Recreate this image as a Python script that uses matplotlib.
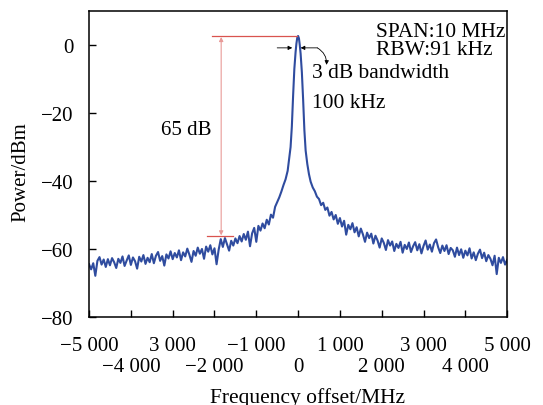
import numpy as np
import matplotlib
matplotlib.use('Agg')
import matplotlib.pyplot as plt

plt.rcParams.update({
    'font.family': ['Liberation Serif', 'DejaVu Serif'],
    'font.size': 15,
    'axes.unicode_minus': True,
})

# Spectrum trace (frequency offset in MHz, power in dBm)
left_freq = list(range(-5000, -250, 50))
left_power = [
    -64.5, -66.0, -64.2, -67.9, -63.5, -62.4, -64.6, -63.1, -65.3, -63.0,
    -64.8, -62.7, -63.9, -65.6, -62.9, -64.1, -62.2, -65.0, -63.4, -61.9,
    -64.7, -62.5, -63.6, -65.8, -62.3, -63.7, -61.8, -64.4, -62.6, -63.9,
    -61.5, -64.2, -62.0, -60.9, -63.5, -62.1, -64.9, -61.6, -62.8, -60.7,
    -63.0, -61.2, -62.5, -60.4, -63.3, -61.0, -62.2, -59.9, -61.7, -63.8,
    -60.6, -62.0, -59.6, -61.4, -60.0, -62.9, -59.3, -60.8, -58.9, -61.6,
    -59.8, -64.5, -60.2, -57.1, -59.4, -56.8, -58.7, -60.5, -57.6, -59.0,
    -56.9, -58.3, -56.2, -57.8, -55.6, -57.3, -54.9, -59.2, -55.4, -53.8,
    -57.9, -53.2, -54.6, -52.5, -53.9, -51.4, -52.8, -49.9, -50.8, -47.6,
    -46.2, -44.8, -43.1, -41.2, -39.5,
]

peak_freq = [-250, -220, -180, -150, -120, -90, -60, -40, -20, 0,
             20, 40, 60, 90, 120, 150, 180, 220, 260]
peak_power = [-37.0, -34.0, -30.0, -24.0, -15.0, -7.0, -2.0, 0.5, 2.2, 2.7,
              2.0, 0.0, -2.5, -8.0, -16.0, -25.0, -31.0, -35.0, -38.0]

right_freq = list(range(300, 5050, 50))
right_power = [
    -40.2, -41.9, -43.0, -44.6, -45.3, -47.1, -46.4, -48.5, -47.8, -50.2,
    -49.1, -51.3, -50.0, -52.6, -50.9, -53.4, -51.7, -55.8, -52.9, -54.2,
    -52.4, -55.1, -53.6, -56.3, -54.0, -55.7, -57.9, -55.2, -56.8, -55.5,
    -58.4, -56.1, -57.5, -59.6, -56.9, -58.2, -60.3, -57.4, -59.0, -57.8,
    -60.6, -58.5, -59.7, -57.9, -61.1, -58.8, -60.0, -58.1, -60.9, -59.2,
    -58.0, -60.4, -58.6, -61.3, -59.1, -57.5, -60.2, -58.7, -60.8, -58.3,
    -57.2, -59.5, -61.2, -59.0, -60.6, -58.9, -61.5, -59.7, -60.4, -62.3,
    -59.6, -61.8, -60.1, -62.6, -60.5, -61.9, -59.8, -62.8, -61.0, -63.3,
    -61.4, -60.2, -62.7, -61.1, -63.6, -61.8, -62.9, -64.8, -62.0, -67.4,
    -62.6, -64.1, -62.4, -64.6, -63.2,
]

freq = np.array(left_freq + peak_freq + right_freq)
power = np.array(left_power + peak_power + right_power)

top_ticks = [-5000, -3000, -1000, 1000, 3000, 5000]
top_labels = ['\u22125 000', '3 000', '\u22121 000', '1 000', '3 000', '5 000']
low_ticks = [-4000, -2000, 0, 2000, 4000]
low_labels = ['\u22124 000', '\u22122 000', '0', '2 000', '4 000']
y_ticks = [0, -20, -40, -60, -80]

fig = plt.figure(figsize=(5.43, 4.06), dpi=100)
ax = fig.add_axes([0.164, 0.217, 0.770, 0.753])

ax.plot(freq, power, color='#2f4c9f', linewidth=1.5)

# 65 dB marker (red)
red = '#d9534f'
ax.plot([-2060, -30], [2.7, 2.7], color=red, linewidth=0.9)
ax.plot([-2180, -1550], [-56.2, -56.2], color=red, linewidth=0.9)
ax.annotate('', xy=(-1840, 2.4), xytext=(-1840, -56.0),
            arrowprops=dict(arrowstyle='<|-|>', color='#e89a98', lw=0.8,
                            mutation_scale=6, shrinkA=0, shrinkB=0))
ax.text(-2680, -24.7, '65 dB', ha='center', va='center')

# 3 dB bandwidth arrows (black)
ax.annotate('', xy=(-140, -0.8), xytext=(-500, -0.8),
            arrowprops=dict(arrowstyle='-|>', color='black', lw=0.6,
                            mutation_scale=6, shrinkA=0, shrinkB=0))
ax.annotate('', xy=(60, -0.8), xytext=(460, -0.8),
            arrowprops=dict(arrowstyle='-|>', color='black', lw=0.6,
                            mutation_scale=6, shrinkA=0, shrinkB=0))
ax.annotate('', xy=(680, -5.8), xytext=(460, -0.8),
            arrowprops=dict(arrowstyle='-|>', color='black', lw=0.6,
                            mutation_scale=6, shrinkA=0, shrinkB=0,
                            connectionstyle='arc3,rad=-0.3'))

ax.text(340, -8.0, '3 dB bandwidth', ha='left', va='center', fontsize=15.5)
ax.text(340, -17.0, '100 kHz', ha='left', va='center', fontsize=15.5)
ax.text(4960, 4.0, 'SPAN:10 MHz', ha='right', va='center', fontsize=15.5)
ax.text(4660, -1.2, 'RBW:91 kHz', ha='right', va='center', fontsize=15.5)

ax.set_xlim(-5000, 5000)
ax.set_ylim(-80, 10)

ax.set_xticks(top_ticks)
ax.set_xticklabels(top_labels)
ax.set_xticks(low_ticks, minor=True)
ax.set_xticklabels(low_labels, minor=True)
ax.set_yticks(y_ticks)

ax.tick_params(axis='x', which='major', direction='in', length=5, width=1,
               pad=13.5, top=False, labelsize=15)
ax.tick_params(axis='x', which='minor', direction='in', length=5, width=1,
               pad=29, top=False, labelsize=15)
ax.tick_params(axis='y', direction='in', length=5, width=1, pad=11,
               right=False, labelsize=15)

for s in ax.spines.values():
    s.set_linewidth(1.1)

ax.set_xlabel('Frequency offset/MHz', fontsize=15.5)
ax.xaxis.set_label_coords(0.5215, -0.228)
ax.set_ylabel('Power/dBm', fontsize=15)
ax.yaxis.set_label_coords(-0.14, 0.477)

fig.savefig('out.png', dpi=100)
